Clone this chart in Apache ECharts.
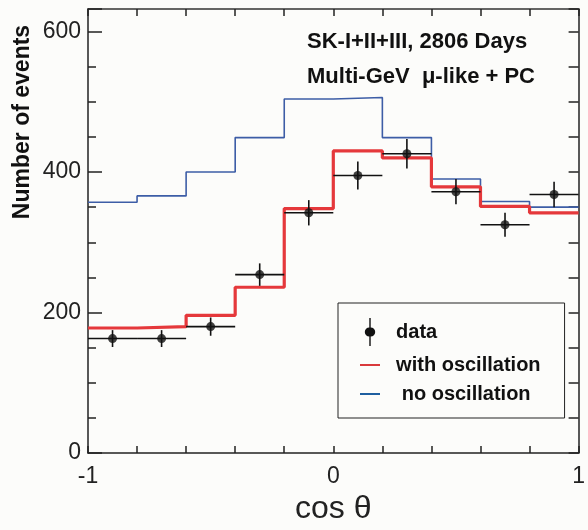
<!DOCTYPE html>
<html>
<head>
<meta charset="utf-8">
<script src="https://cdn.jsdelivr.net/npm/echarts@6/dist/echarts.min.js"></script>
<style>html,body{margin:0;padding:0;background:#fcfcfa;}#c{width:588px;height:530px;}</style>
</head>
<body>
<div id="c"></div>
<script>
// Bin edges in cos(theta)
const binEdges = [-1, -0.8, -0.6, -0.4, -0.2, 0, 0.2, 0.4, 0.6, 0.8, 1];
// Expected counts per bin
const noOscillation   = [357, 366, 400, 449, 504, 506, 449, 390, 358, 350];
const withOscillation = [178, 180, 196, 236, 348, 430, 420, 379, 351, 342];
// Measured data
const dataX   = [-0.9, -0.7, -0.5, -0.3, -0.1, 0.1, 0.3, 0.5, 0.7, 0.9];
const dataY   = [163, 163, 180, 254, 342, 395, 426, 372, 325, 368];
const dataErr = [12, 12, 13, 16, 18, 20, 21, 18, 17, 18];
// Axis labels
const yTickLabels = [0, 200, 400, 600];
const xTickLabels = [-1, 0, 1];

function stepData(vals) {
  const d = vals.map((v, i) => [binEdges[i], v]);
  d.push([binEdges[binEdges.length - 1], vals[vals.length - 1]]);
  return d;
}
const errData = dataX.map((x, i) => {
  const hw = (binEdges[i + 1] - binEdges[i]) / 2;
  return [x, dataY[i], dataErr[i], hw];
});

const chart = echarts.init(document.getElementById('c'), null, {renderer: 'canvas'});
const axisColor = '#222';
const F = '"Liberation Sans", Arial, sans-serif';

chart.setOption({
  backgroundColor: '#fcfcfa',
  animation: false,
  grid: {left: 88, top: 9, right: 4, bottom: 72, containLabel: false},
  graphic: [{
    type: 'text', x: 23, y: 122, rotation: Math.PI / 2,
    style: {text: 'Number of events', fontFamily: F, fontWeight: 'bold', fontSize: 23,
            fill: '#111', align: 'center', verticalAlign: 'middle'}
  }, {
    type: 'text', x: 307, y: 42,
    style: {text: 'SK-I+II+III, 2806 Days', fontFamily: F, fontWeight: 'bold', fontSize: 22,
            fill: '#111', align: 'left', verticalAlign: 'middle'}
  }, {
    type: 'text', x: 307, y: 77,
    style: {text: 'Multi-GeV  \u03bc-like + PC', fontFamily: F, fontWeight: 'bold', fontSize: 22,
            fill: '#111', align: 'left', verticalAlign: 'middle'}
  }],
  legend: {
    orient: 'vertical', left: 338, top: 303,
    padding: [15, 24, 14, 22], itemGap: 9,
    itemWidth: 20, itemHeight: 28,
    borderColor: '#222', borderWidth: 1, backgroundColor: '#fcfcfa',
    textStyle: {fontFamily: F, fontWeight: 'bold', fontSize: 20, color: '#111'},
    formatter: n => (n === 'no oscillation' ? '   ' : '  ') + n,
    data: [
      {name: 'data', icon: 'path://M4.3,0H5.7V9.5A4.5,4.5,0,1,1,5.7,18.5V28H4.3V18.5A4.5,4.5,0,1,1,4.3,9.5Z', itemStyle: {color: '#111'}},
      {name: 'with oscillation', icon: 'path://M0,0H20V2H0Z'},
      {name: 'no oscillation', icon: 'path://M0,0H20V2H0Z'}
    ]
  },
  xAxis: [{
    type: 'value', min: -1, max: 1, interval: 0.2, position: 'bottom',
    axisLine: {show: true, onZero: false, lineStyle: {color: axisColor, width: 1.5}},
    axisTick: {inside: true, length: 7, lineStyle: {color: axisColor, width: 1.5}},
    axisLabel: {
      margin: 12, fontSize: 23, fontFamily: F, color: '#222', showMaxLabel: true, showMinLabel: true,
      formatter: v => xTickLabels.some(t => Math.abs(t - v) < 1e-6) ? String(Math.round(v)) : ''
    },
    splitLine: {show: false},
    name: 'cos \u03b8', nameLocation: 'middle', nameGap: 39,
    nameTextStyle: {fontFamily: F, fontSize: 32, color: '#222'}
  }, {
    type: 'value', min: -1, max: 1, interval: 0.2, position: 'top',
    axisLine: {show: true, onZero: false, lineStyle: {color: '#333', width: 1.5}},
    axisTick: {inside: true, length: 7, lineStyle: {color: axisColor, width: 1.5}},
    axisLabel: {show: false}, splitLine: {show: false}
  }],
  yAxis: [{
    type: 'value', min: 0, max: 632, interval: 50, position: 'left',
    axisLine: {show: true, onZero: false, lineStyle: {color: axisColor, width: 1.5}},
    axisTick: {inside: true, length: 8, lineStyle: {color: axisColor, width: 1.5}},
    axisLabel: {
      margin: 7, fontSize: 23, fontFamily: F, color: '#222', showMaxLabel: false,
      formatter: v => yTickLabels.indexOf(v) >= 0 ? String(v) : ''
    },
    splitLine: {show: false}
  }, {
    type: 'value', min: 0, max: 632, interval: 50, position: 'right',
    axisLine: {show: true, onZero: false, lineStyle: {color: axisColor, width: 1.5}},
    axisTick: {inside: true, length: 10, lineStyle: {color: axisColor, width: 1.5}},
    axisLabel: {show: false}, splitLine: {show: false}
  }, {
    type: 'value', min: 0, max: 632, interval: 200, position: 'left',
    axisLine: {show: false, onZero: false},
    axisTick: {inside: true, length: 14, lineStyle: {color: axisColor, width: 1.5}},
    axisLabel: {show: false}, splitLine: {show: false}
  }],
  series: [{
    name: 'no oscillation', type: 'line', step: 'end', data: stepData(noOscillation),
    symbol: 'none', lineStyle: {color: '#3d5da6', width: 1.6}, itemStyle: {color: '#1f5fa0'}, z: 2
  }, {
    name: 'with oscillation', type: 'line', step: 'end', data: stepData(withOscillation),
    symbol: 'none', lineStyle: {color: '#e5383b', width: 3.2}, itemStyle: {color: '#d9393c'}, z: 3
  }, {
    name: 'data', type: 'custom', data: errData, z: 4,
    renderItem: (params, api) => {
      const x = api.value(0), y = api.value(1), e = api.value(2), hw = api.value(3);
      const p1 = api.coord([x, y - e]), p2 = api.coord([x, y + e]);
      const p3 = api.coord([x - hw, y]), p4 = api.coord([x + hw, y]);
      const st = {stroke: '#111', lineWidth: 1.6};
      return {type: 'group', children: [
        {type: 'line', shape: {x1: p1[0], y1: p1[1], x2: p2[0], y2: p2[1]}, style: st},
        {type: 'line', shape: {x1: p3[0], y1: p3[1], x2: p4[0], y2: p4[1]}, style: st}
      ]};
    },
    itemStyle: {color: '#111'}
  }, {
    name: 'data', type: 'scatter', data: dataX.map((x, i) => [x, dataY[i]]),
    symbol: 'circle', symbolSize: 9, itemStyle: {color: '#111'}, z: 5
  }]
});
</script>
</body>
</html>
